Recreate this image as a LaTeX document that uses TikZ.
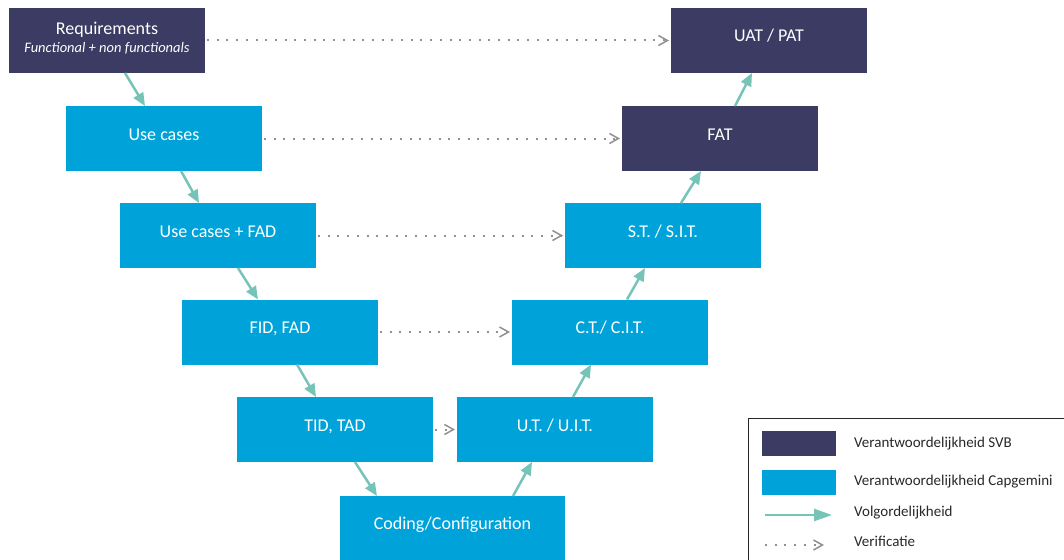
\documentclass[tikz,border=0pt]{standalone}
\usepackage{fontspec}
\setmainfont{Carlito}
\usetikzlibrary{arrows.meta,calc}
\definecolor{navy}{RGB}{59,59,99}
\definecolor{capblue}{RGB}{0,163,217}
\definecolor{teal2}{RGB}{118,196,183}
\definecolor{dotgray}{RGB}{145,145,145}
\definecolor{legtext}{RGB}{40,40,40}
\tikzset{
  box/.style={rectangle, minimum width=196pt, minimum height=65pt, inner sep=0pt, outer sep=0pt,
    text=white, font=\fontsize{18}{21}\selectfont, text height=8pt, text depth=5pt},
  navybox/.style={box, fill=navy},
  bluebox/.style={box, fill=capblue},
  boxtxt/.style={anchor=base, inner sep=0pt, text=white},
  seq/.style={draw=teal2, line width=2.5pt, -{Triangle[length=13pt,width=11pt]}},
  verif/.style={draw=dotgray, line width=2pt, dash pattern=on 2pt off 7.7pt,
    -{Straight Barb[length=9pt,width=10pt,line width=1.5pt]}, shorten <=2pt, shorten >=2pt},
  legtxt/.style={anchor=base west, inner sep=0pt, text=legtext, font=\fontsize{15}{17}\selectfont}
}
\begin{document}
\begin{tikzpicture}[x=1pt,y=-1pt]
\useasboundingbox (0,0) rectangle (1064,559);
\begin{scope}
\clip (0,0) rectangle (1064,559);
% boxes
\node[navybox] (req) at (107,40.5) {};
\node[boxtxt, font=\fontsize{18}{21}\selectfont] (reqa) at ($(req.north)+(0,26.5)$) {Requirements};
\node[boxtxt, font=\fontsize{14.5}{17}\selectfont\itshape] (reqb) at ($(req.north)+(0,44.5)$) {Functional + non functionals};
\node[navybox] (uat) at (769,40.5) {UAT / PAT};
\node[bluebox] (uc) at (164,138.5) {Use cases};
\node[navybox] (fat) at (720,138.5) {FAT};
\node[bluebox] (ucf) at (218,235.5) {Use cases + FAD};
\node[bluebox] (st) at (663,235.5) {S.T. / S.I.T.};
\node[bluebox] (fid) at (280,332) {FID, FAD};
\node[bluebox] (ct) at (610,332) {C.T./ C.I.T.};
\node[bluebox] (tid) at (335,429.5) {TID, TAD};
\node[bluebox] (ut) at (555,429.5) {U.T. / U.I.T.};
\node[bluebox, minimum width=225pt, minimum height=64pt] (cod) at (452.5,528) {Coding/Configuration};
% sequence arrows
\draw[seq] ($(req.south west)+(116,0)$) -- ($(uc.north west)+(79,0)$);
\draw[seq] ($(uc.south west)+(115,0)$) -- ($(ucf.north west)+(79,0)$);
\draw[seq] ($(ucf.south west)+(118,0)$) -- ($(fid.north west)+(76,0)$);
\draw[seq] ($(fid.south west)+(115,0)$) -- ($(tid.north west)+(79,0)$);
\draw[seq] ($(tid.south west)+(118,0)$) -- ($(cod.north west)+(37,0)$);
\draw[seq] ($(cod.north west)+(173,0)$) -- ($(ut.south west)+(75,0)$);
\draw[seq] ($(ut.north west)+(116,0)$) -- ($(ct.south west)+(79,0)$);
\draw[seq] ($(ct.north west)+(115,0)$) -- ($(st.south west)+(80,0)$);
\draw[seq] ($(st.north west)+(116,0)$) -- ($(fat.south west)+(79,0)$);
\draw[seq] ($(fat.north west)+(113,0)$) -- ($(uat.south west)+(81,0)$);
% verification arrows
\draw[verif] (req.east) -- (uat.west);
\draw[verif] (uc.east) -- (fat.west);
\draw[verif] (ucf.east) -- (st.west);
\draw[verif] (fid.east) -- (ct.west);
\draw[verif] (tid.east) -- (ut.west);
% legend
\node[draw=legtext, line width=1pt, rectangle, minimum width=330pt, minimum height=160pt, anchor=north west, inner sep=0pt] (leg) at (748,418) {};
\node[fill=navy, minimum width=74pt, minimum height=25pt, inner sep=0pt, anchor=north west] (sw1) at (762,431) {};
\node[fill=capblue, minimum width=74pt, minimum height=25pt, inner sep=0pt, anchor=north west] (sw2) at (762,470) {};
\coordinate (a1) at (765,515);
\coordinate (a2) at (832,515);
\coordinate (d1) at (763,545);
\coordinate (d2) at (826,545);
\draw[seq, -{Triangle[length=18pt,width=12pt]}] (a1) -- (a2);
\draw[verif] (d1) -- (d2);
\node[legtxt] (l1) at (854,447) {Verantwoordelijkheid SVB};
\node[legtxt] (l2) at (854,485) {Verantwoordelijkheid Capgemini};
\node[legtxt] (l3) at (854,516) {Volgordelijkheid};
\node[legtxt] (l4) at (854,546) {Verificatie};
\end{scope}
\end{tikzpicture}
\end{document}
